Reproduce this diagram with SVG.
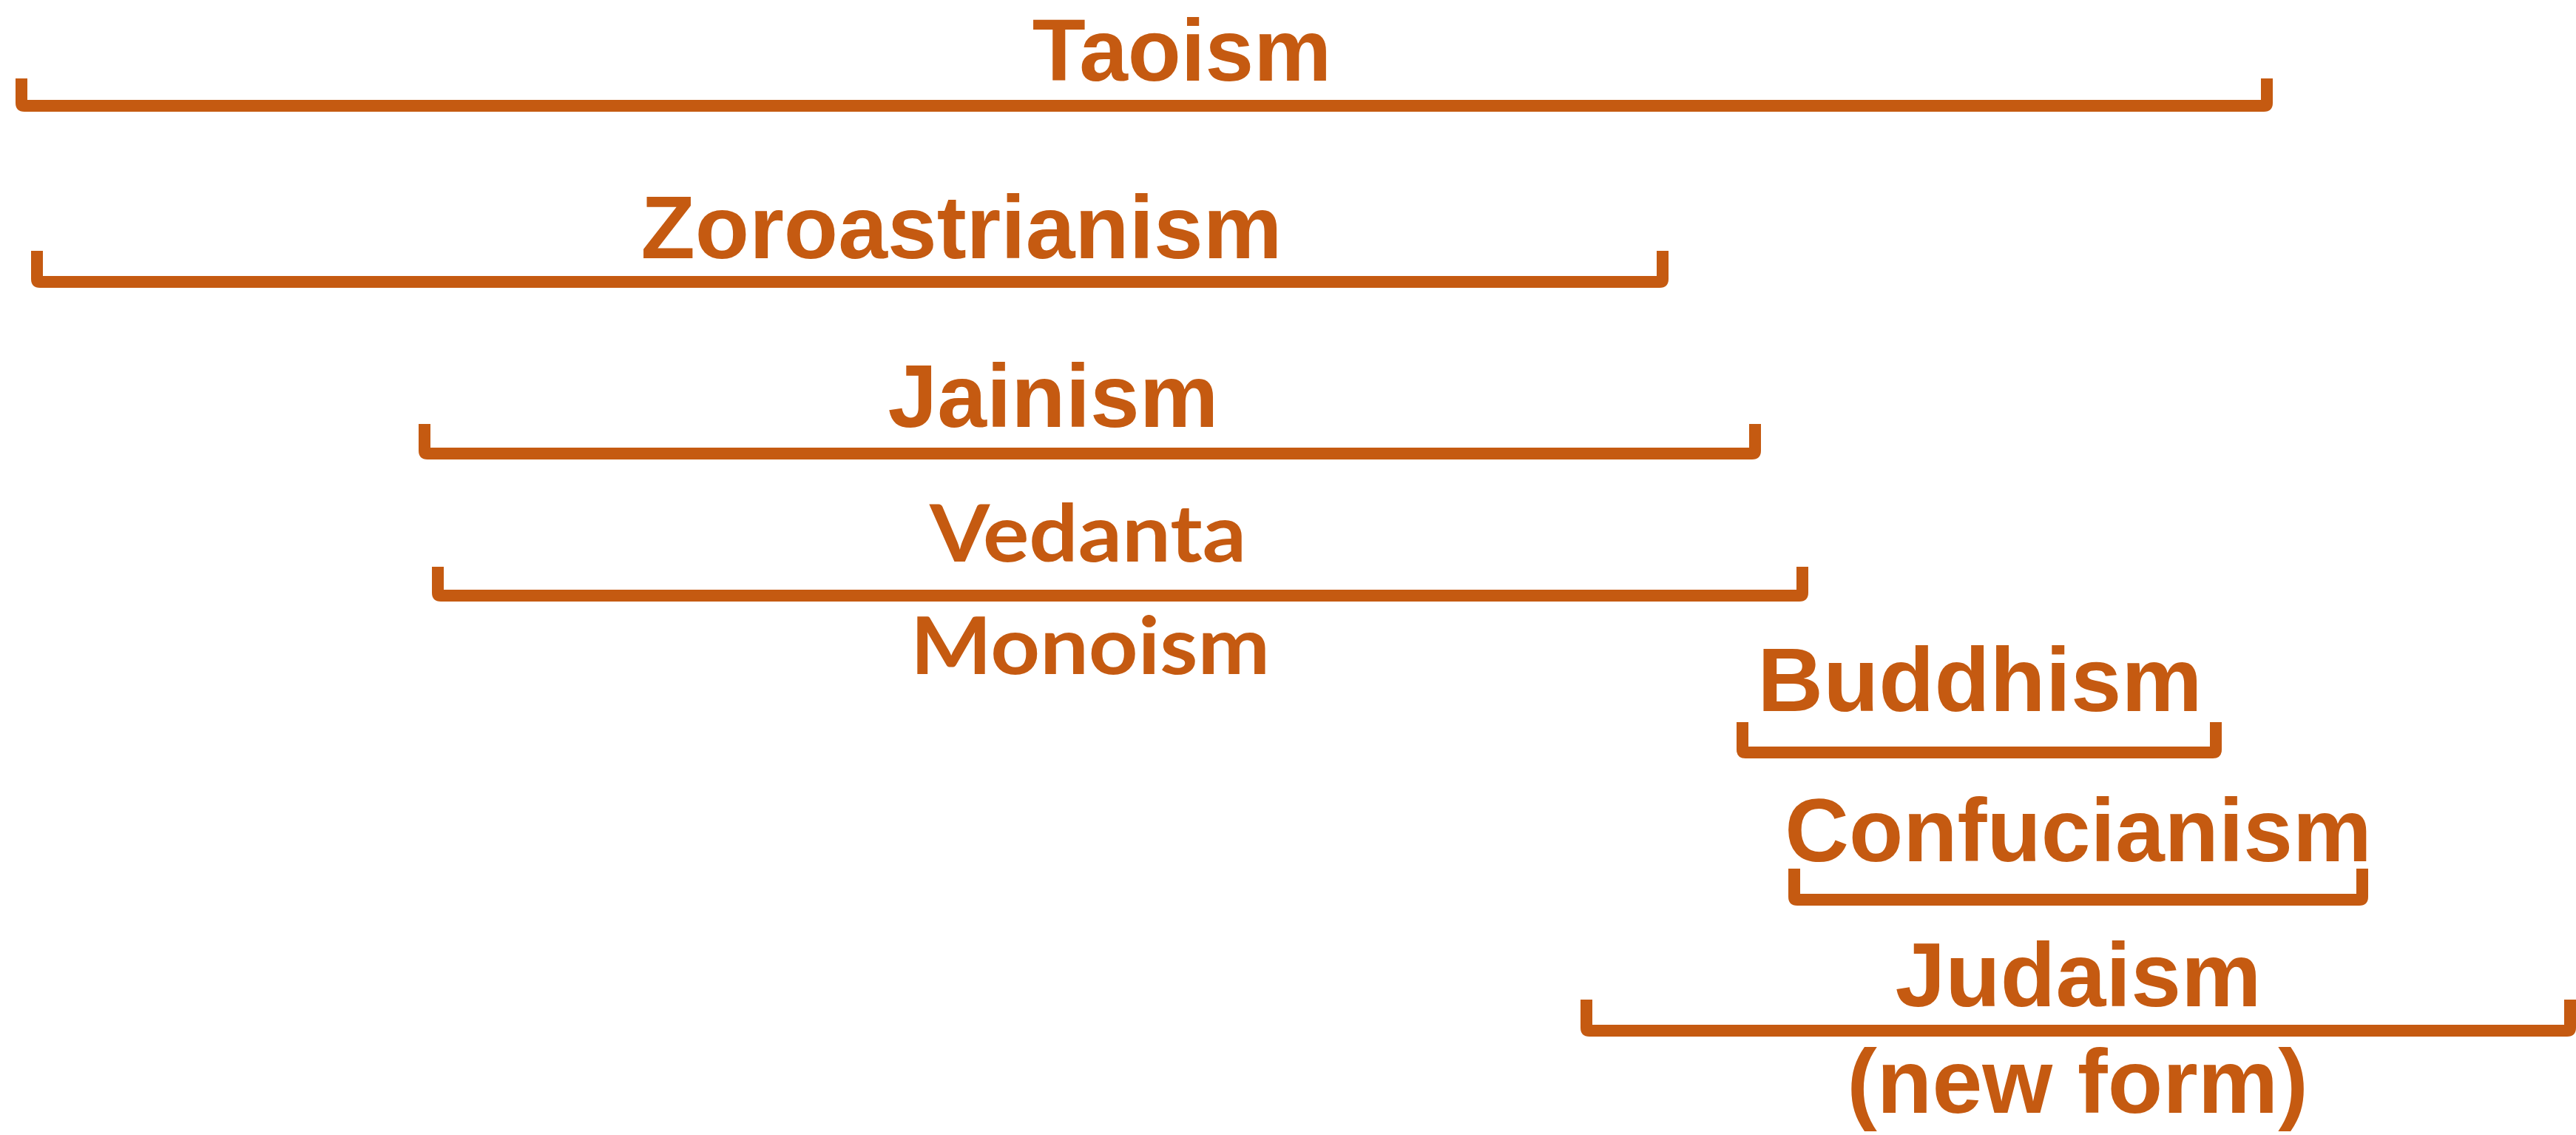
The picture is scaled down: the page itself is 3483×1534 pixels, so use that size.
<svg xmlns="http://www.w3.org/2000/svg" width="3483" height="1534" viewBox="0 0 3483 1534">
<style>
.br{fill:#C55A11;stroke:none}
.t{font-family:"Liberation Sans",Arial,sans-serif;font-weight:bold;fill:#C55A11;text-anchor:middle}
.c{font-family:Lato,"Open Sans",sans-serif;font-weight:bold;fill:#C55A11;text-anchor:middle}
</style>
<rect width="3483" height="1534" fill="#ffffff"/>
<g id="taoism">
<text class="t" x="1598" y="109" font-size="118">Taoism</text>
<path class="br" d="M21,106 H37 V135 H3057 V106 H3073 V139 Q3073,151 3061,151 H33 Q21,151 21,139 Z"/>
</g>
<g id="zoroastrianism">
<text class="t" x="1300" y="349" font-size="120">Zoroastrianism</text>
<path class="br" d="M42,339 H58 V373 H2240 V339 H2256 V377 Q2256,389 2244,389 H54 Q42,389 42,377 Z"/>
</g>
<g id="jainism">
<text class="t" x="1424" y="577" font-size="120">Jainism</text>
<path class="br" d="M566,573 H582 V605 H2365 V573 H2381 V609 Q2381,621 2369,621 H578 Q566,621 566,609 Z"/>
</g>
<g id="vedanta">
<text class="c" x="1471" y="759" font-size="108" textLength="428" lengthAdjust="spacingAndGlyphs">Vedanta</text>
<path class="br" d="M584,766 H600 V797 H2429 V766 H2445 V801 Q2445,813 2433,813 H596 Q584,813 584,801 Z"/>
</g>
<g id="monoism">
<text class="c" x="1474" y="911" font-size="108" textLength="486" lengthAdjust="spacingAndGlyphs">Monoism</text>
</g>
<g id="buddhism">
<text class="t" x="2677" y="961" font-size="123">Buddhism</text>
<path class="br" d="M2348,976 H2364 V1009 H2988 V976 H3004 V1013 Q3004,1025 2992,1025 H2360 Q2348,1025 2348,1013 Z"/>
</g>
<g id="confucianism">
<text class="t" x="2810" y="1164" font-size="120">Confucianism</text>
<path class="br" d="M2418,1174 H2434 V1208 H3186 V1174 H3202 V1212 Q3202,1224 3190,1224 H2430 Q2418,1224 2418,1212 Z"/>
</g>
<g id="judaism">
<text class="t" x="2810" y="1360" font-size="122">Judaism</text>
<text class="t" x="2809" y="1504" font-size="122">(new form)</text>
<path class="br" d="M2137,1351 H2153 V1385 H3467 V1351 H3483 V1389 Q3483,1401 3471,1401 H2149 Q2137,1401 2137,1389 Z"/>
</g>
<g id="connectors"></g>
</svg>
